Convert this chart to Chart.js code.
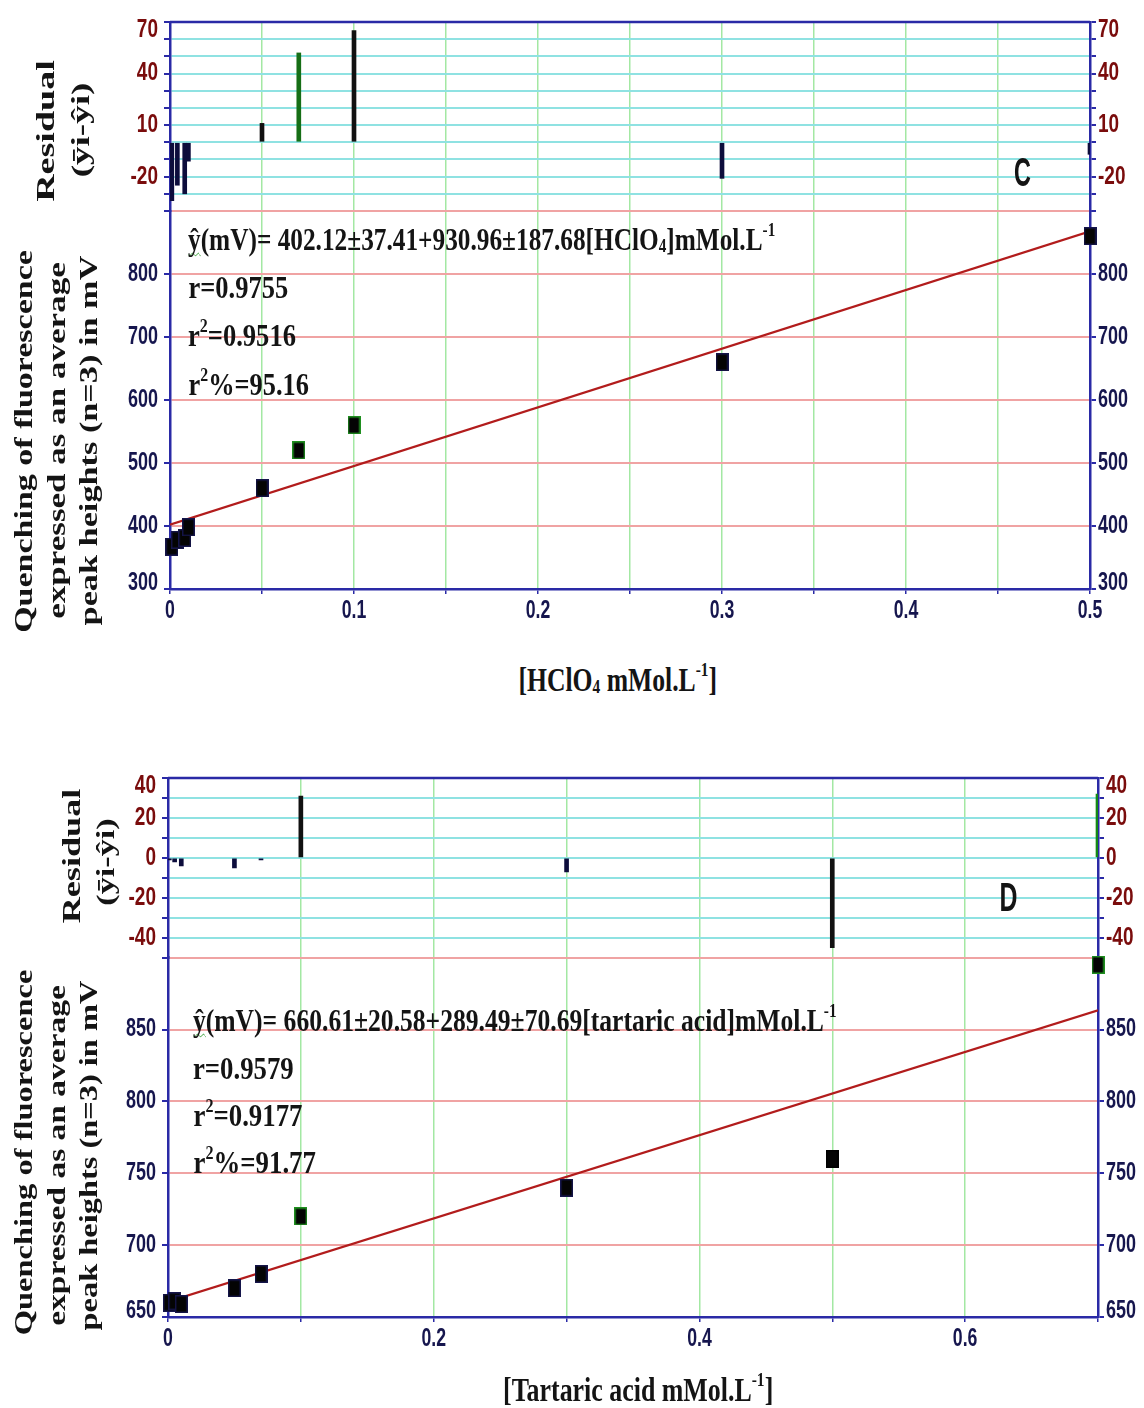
<!DOCTYPE html>
<html><head><meta charset="utf-8">
<script src="https://cdn.jsdelivr.net/npm/chart.js@4.4.1/dist/chart.umd.min.js"></script>
<style>
html,body{margin:0;padding:0;background:#fff;}
#wrap{position:relative;width:1144px;height:1408px;overflow:hidden;background:#fff;}
canvas{position:absolute;left:0;}
.t{position:absolute;white-space:nowrap;line-height:1;font-family:'Liberation Serif','Times New Roman',serif;font-weight:bold;color:#141414;transform-origin:50% 50%;}
</style></head><body><div id="wrap">
<canvas id="cC" width="1144" height="650" style="top:0"></canvas>
<canvas id="cD" width="1144" height="640" style="top:740px"></canvas>
</div>
<script>
// ---------- data ----------
// Panel C : HClO4
const xC    = [0.001, 0.004, 0.008, 0.01, 0.05, 0.07, 0.1, 0.3, 0.5];
const yC    = [367, 378, 381, 398, 460, 520, 560, 660, 860];
const resC  = [-34, -25, -30, -11, 11, 52, 65, -21, -7];
const fitXC = [0, 0.5];
const fitYC = [402.1, 867.6];
const xLabelsC    = [0, 0.1, 0.2, 0.3, 0.4, 0.5];
const resLabelsC  = [70, 40, 10, -20];
const mainLabelsC = [300, 400, 500, 600, 700, 800];
// Panel D : tartaric acid
const xD    = [0.001, 0.005, 0.01, 0.05, 0.07, 0.1, 0.3, 0.5, 0.7];
const yD    = [660, 661, 659, 670, 680, 720, 740, 760, 895];
const resD  = [-1, -2, -4, -5, -1, 31, -7, -45, 32];
const fitXD = [0, 0.7];
const fitYD = [660.6, 863.3];
const xLabelsD    = [0, 0.2, 0.4, 0.6];
const resLabelsD  = [40, 20, 0, -20, -40];
const mainLabelsD = [650, 700, 750, 800, 850];

// ---------- styles ----------
const BLUE = '#2a2aa6', NAVY = '#16164e', MAROON = '#7a0c0c';
const CYAN = '#8fe2e2', PINK = '#f0a3a3', GREEN = '#a3e8a3';
const TRANSP = 'rgba(0,0,0,0)';
const LBL_FONT = 'bold 25px "Liberation Sans", Arial, sans-serif';
const XLBL_FONT = 'bold 26px "Liberation Sans", Arial, sans-serif';

function rectImg(edge){
  const c = document.createElement('canvas'); c.width = 13; c.height = 18;
  const g = c.getContext('2d');
  g.fillStyle = edge; g.fillRect(0,0,13,18);
  g.fillStyle = '#040404'; g.fillRect(1.5,1.5,10,15);
  return c;
}
const SQ_N = rectImg('#15154a'), SQ_G = rectImg('#1f8f1f'), SQ_K = rectImg('#000');

const near = (a,b) => Math.abs(a-b) < 1e-9;
const fmt = v => String(+v.toFixed(3));

function drawLbl(ctx, text, x, y, align, font, color, sx){
  ctx.save();
  ctx.font = font; ctx.fillStyle = color; ctx.textBaseline = 'middle'; ctx.textAlign = 'left';
  const w = ctx.measureText(text).width * sx;
  const x0 = align === 'right' ? x - w : (align === 'center' ? x - w/2 : x);
  ctx.translate(x0, y); ctx.scale(sx, 1);
  ctx.fillText(text, 0, 0);
  ctx.restore();
}

const topBorder = {
  id: 'topBorder',
  beforeDatasetsDraw(chart){
    const {ctx, chartArea:a} = chart;
    ctx.save(); ctx.strokeStyle = BLUE; ctx.lineWidth = 2.5;
    ctx.beginPath(); ctx.moveTo(a.left, a.top); ctx.lineTo(a.right, a.top); ctx.stroke();
    ctx.restore();
  }
};

function tickText(P){
  return {
    id: 'tickText',
    afterDraw(chart){
      const ctx = chart.ctx, S = chart.scales;
      P.resLabels.forEach(v => {
        let y = S.resL.getPixelForValue(v);
        if (near(v, P.resMax)) y += 8;
        drawLbl(ctx, fmt(v), S.resL.right - 12, y, 'right', LBL_FONT, MAROON, 0.76);
        drawLbl(ctx, fmt(v), S.resR.left + 8, y, 'left', LBL_FONT, MAROON, 0.76);
      });
      P.mainLabels.forEach(v => {
        let y = S.mainL.getPixelForValue(v);
        if (near(v, P.mainMin)) y -= 6;
        drawLbl(ctx, fmt(v), S.mainL.right - 12, y, 'right', LBL_FONT, NAVY, 0.72);
        drawLbl(ctx, fmt(v), S.mainR.left + 8, y, 'left', LBL_FONT, NAVY, 0.72);
      });
      P.xLabels.forEach(v => {
        drawLbl(ctx, fmt(v), S.x.getPixelForValue(v), S.x.top + 22, 'center', XLBL_FONT, NAVY, 0.68);
      });
    }
  };
}

function buildPanel(id, P){
  const hidden = {autoSkip:false, color:TRANSP, font:{size:12}};
  const yScale = (o) => Object.assign({ type:'linear', stack:'s', border:{color:BLUE, width:2.5} }, o);
  return new Chart(document.getElementById(id), {
    type: 'scatter',
    data: { datasets: [
      { type:'scatter', data: P.xs.map((x,i)=>({x, y:P.ys[i]})), xAxisID:'x', yAxisID:'mainL',
        pointStyle: P.pstyles, pointRadius: 9, order: 1, clip: false },
      { type:'line', data: P.fitX.map((x,i)=>({x, y:P.fitY[i]})), xAxisID:'x', yAxisID:'mainL',
        borderColor:'#b21c1c', borderWidth:2.2, pointRadius:0, fill:false, order: 2 },
      { type:'bar', data: P.xs.map((x,i)=>({x, y:[0, P.res[i]]})), xAxisID:'x', yAxisID:'resL',
        backgroundColor: P.barCols, borderWidth:0, barThickness:4, order: 3 }
    ]},
    options: {
      responsive:false, animation:false, devicePixelRatio:1,
      layout:{padding:{top:P.padTop, left:0, right:0, bottom:0}},
      plugins:{legend:{display:false}, tooltip:{enabled:false}},
      scales: {
        x: { type:'linear', position:'bottom', min:0, max:P.xMax, offset:false,
          ticks:Object.assign({stepSize:P.xStep, maxRotation:0}, hidden),
          grid:{color: c => (near(c.tick.value,0)||near(c.tick.value,P.xMax)) ? TRANSP : GREEN,
                lineWidth:1.5, tickLength:5, tickColor:BLUE, offset:false},
          border:{color:BLUE, width:2.5},
          afterFit: s => { s.height = P.xH; } },
        resL: yScale({ position:'left', weight:2, stackWeight:1, min:P.resMin, max:P.resMax,
          ticks:Object.assign({stepSize:P.resStep}, hidden),
          grid:{color: c => (near(c.tick.value,P.resMin)||near(c.tick.value,P.resMax)) ? TRANSP : CYAN,
                lineWidth:2, tickLength:6, tickColor:BLUE},
          afterFit: s => { s.width = P.leftW; } }),
        mainL: yScale({ position:'left', weight:1, stackWeight:2, min:P.mainMin, max:P.mainMax,
          ticks:Object.assign({stepSize:P.mainStep}, hidden),
          grid:{color: c => near(c.tick.value,P.mainMin) ? TRANSP : PINK,
                lineWidth:2, tickLength:6, tickColor:BLUE},
          afterFit: s => { s.width = P.leftW; } }),
        resR: yScale({ position:'right', weight:1, stackWeight:1, min:P.resMin, max:P.resMax,
          ticks:Object.assign({stepSize:P.resStep}, hidden),
          grid:{drawOnChartArea:false, tickLength:6, tickColor:BLUE, lineWidth:2},
          afterFit: s => { s.width = P.rightW; } }),
        mainR: yScale({ position:'right', weight:2, stackWeight:2, min:P.mainMin, max:P.mainMax,
          ticks:Object.assign({stepSize:P.mainStep}, hidden),
          grid:{drawOnChartArea:false, tickLength:6, tickColor:BLUE, lineWidth:2},
          afterFit: s => { s.width = P.rightW; } })
      }
    },
    plugins:[topBorder, tickText(P)]
  });
}

buildPanel('cC', {
  xs:xC, ys:yC, res:resC, fitX:fitXC, fitY:fitYC,
  pstyles:[SQ_N,SQ_N,SQ_N,SQ_N,SQ_N,SQ_G,SQ_G,SQ_N,SQ_N],
  barCols:['#0d0d3c','#0d0d3c','#0d0d3c','#0d0d3c','#111','#166e16','#111','#0d0d3c','#0d0d3c'],
  xMax:0.5, xStep:0.05, xLabels:xLabelsC,
  resMin:-40, resMax:70, resStep:10, resLabels:resLabelsC,
  mainMin:300, mainMax:900, mainStep:100, mainLabels:mainLabelsC,
  leftW:170, rightW:54, padTop:22, xH:61
});
buildPanel('cD', {
  xs:xD, ys:yD, res:resD, fitX:fitXD, fitY:fitYD,
  pstyles:[SQ_N,SQ_N,SQ_N,SQ_N,SQ_N,SQ_G,SQ_N,SQ_K,SQ_G],
  barCols:['#0d0d3c','#0d0d3c','#0d0d3c','#0d0d3c','#0d0d3c','#111','#0d0d3c','#111','#148a14'],
  xMax:0.7, xStep:0.1, xLabels:xLabelsD,
  resMin:-50, resMax:40, resStep:10, resLabels:resLabelsD,
  mainMin:650, mainMax:900, mainStep:50, mainLabels:mainLabelsD,
  leftW:168, rightW:46, padTop:38, xH:63
});

// ---------- text ----------
const wrap = document.getElementById('wrap');
function place(html, o){
  const el = document.createElement('div');
  el.className = 't';
  el.innerHTML = html;
  el.style.fontSize = o.size + 'px';
  if (o.family) el.style.fontFamily = o.family;
  if (o.color) el.style.color = o.color;
  wrap.appendChild(el);
  const w = el.offsetWidth, h = el.offsetHeight;
  const s = o.len / w;
  el.style.left = (o.cx - w/2) + 'px';
  el.style.top = (o.cy - h/2) + 'px';
  el.style.transform = (o.rot ? 'rotate(' + o.rot + 'deg) ' : '') + 'scaleX(' + s + ')';
}
const hLine = (html, x1, x2, cy, size) => place(html, {cx:(x1+x2)/2, cy, len:x2-x1, size});
const vLine = (html, cx, y1, y2, size) => place(html, {cx, cy:(y1+y2)/2, len:y1-y2, size, rot:-90});
const SUP = t => '<span style="font-size:.6em;position:relative;top:-.75em">' + t + '</span>';
const SUB = t => '<span style="font-size:.6em;position:relative;top:.15em">' + t + '</span>';
const YHAT = '<span style="text-decoration:underline wavy #2c9a2c;text-decoration-thickness:1px;text-underline-offset:2px;text-decoration-skip-ink:none">ŷ</span>';

// Panel C texts
hLine(YHAT + '(mV)= 402.12±37.41+930.96±187.68[HClO' + SUB('4') + ']mMol.L' + SUP('-1'), 188, 775, 239, 31);
hLine('r=0.9755', 188, 288, 287, 31);
hLine('r' + SUP('2') + '=0.9516', 188, 296, 335, 31);
hLine('r' + SUP('2') + '%=95.16', 188, 308, 384, 31);
hLine('[HClO' + SUB('4') + ' mMol.L' + SUP('-1') + ']', 518, 717, 680, 33);
place('C', {cx:1022, cy:172, len:17, size:40, family:"'Liberation Sans',Arial,sans-serif"});
vLine('Residual', 46, 202, 60, 26);
vLine('(ȳi-ŷi)', 81, 177, 83, 26);
vLine('Quenching of fluorescence', 23, 632, 250, 25);
vLine('expressed as an average', 56, 618, 262, 25);
vLine('peak heights (n=3) in mV', 89, 625, 255, 25);

// Panel D texts
hLine(YHAT + '(mV)= 660.61±20.58+289.49±70.69[tartaric acid]mMol.L' + SUP('-1'), 193, 837, 1020, 31);
hLine('r=0.9579', 193, 294, 1068, 31);
hLine('r' + SUP('2') + '=0.9177', 193, 302, 1115, 31);
hLine('r' + SUP('2') + '%=91.77', 193, 315, 1162, 31);
hLine('[Tartaric acid mMol.L' + SUP('-1') + ']', 503, 773, 1390, 33);
place('D', {cx:1008, cy:897, len:18, size:40, family:"'Liberation Sans',Arial,sans-serif"});
vLine('Residual', 72, 923, 788, 26);
vLine('(ȳi-ŷi)', 106, 905, 818, 26);
vLine('Quenching of fluorescence', 23, 1335, 970, 25);
vLine('expressed as an average', 56, 1325, 985, 25);
vLine('peak heights (n=3) in mV', 89, 1330, 980, 25);
</script>
</body></html>
